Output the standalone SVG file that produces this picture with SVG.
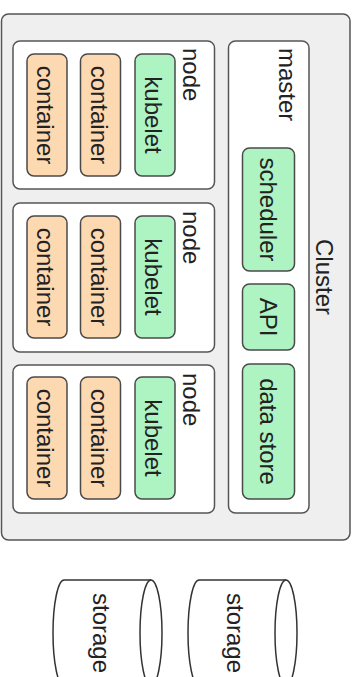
<svg xmlns="http://www.w3.org/2000/svg" width="356" height="677" viewBox="0 0 356 677">
  <style>
    .cluster { fill: #efefef; stroke: #555; stroke-width: 1.5; }
    .box { fill: #ffffff; stroke: #555; stroke-width: 1.5; }
    .green { fill: #aef3c2; stroke: #4a4a4a; stroke-width: 1.5; }
    .peach { fill: #fdd9b2; stroke: #4a4a4a; stroke-width: 1.5; }
    .cyl { fill: #ffffff; stroke: #333; stroke-width: 1.5; }
    text { font-family: "Liberation Sans", Arial, Helvetica, sans-serif; font-size: 24px; fill: #222; }
    .mid { text-anchor: middle; }
  </style>

  <!-- cluster frame -->
  <g id="cluster">
    <rect class="cluster" x="1.5" y="14" width="348.5" height="526" rx="7"/>
    <text class="mid" x="316" y="277" transform="rotate(90 316 277)">Cluster</text>
  </g>

  <!-- master -->
  <g id="master">
    <rect class="box" x="228.5" y="41" width="80.5" height="472" rx="7"/>
    <text x="279" y="48" transform="rotate(90 279 48)">master</text>
  </g>
  <g id="scheduler">
    <rect class="green" x="242.5" y="148" width="52" height="123" rx="7"/>
    <text class="mid" x="260" y="209.5" transform="rotate(90 260 209.5)">scheduler</text>
  </g>
  <g id="api">
    <rect class="green" x="242.5" y="284" width="52" height="66" rx="7"/>
    <text class="mid" x="260" y="317" transform="rotate(90 260 317)">API</text>
  </g>
  <g id="data-store">
    <rect class="green" x="242.5" y="364" width="52" height="135" rx="7"/>
    <text class="mid" x="260" y="431.5" transform="rotate(90 260 431.5)">data store</text>
  </g>

  <!-- node 1 -->
  <g id="node1">
    <rect class="box" x="13" y="41" width="201.5" height="148" rx="7"/>
    <text x="183" y="48" transform="rotate(90 183 48)">node</text>
  </g>
  <g id="node1-kubelet">
    <rect class="green" x="135" y="54" width="40" height="122" rx="7"/>
    <text class="mid" x="145" y="115" transform="rotate(90 145 115)">kubelet</text>
  </g>
  <g id="node1-container2">
    <rect class="peach" x="80.5" y="54" width="40" height="122" rx="7"/>
    <text class="mid" x="91" y="115" transform="rotate(90 91 115)">container</text>
  </g>
  <g id="node1-container1">
    <rect class="peach" x="27" y="54" width="40" height="122" rx="7"/>
    <text class="mid" x="37" y="115" transform="rotate(90 37 115)">container</text>
  </g>

  <!-- node 2 -->
  <g id="node2">
    <rect class="box" x="13" y="203" width="201.5" height="149" rx="7"/>
    <text x="183" y="211" transform="rotate(90 183 211)">node</text>
  </g>
  <g id="node2-kubelet">
    <rect class="green" x="135" y="216" width="40" height="122" rx="7"/>
    <text class="mid" x="145" y="277" transform="rotate(90 145 277)">kubelet</text>
  </g>
  <g id="node2-container2">
    <rect class="peach" x="80.5" y="216" width="40" height="122" rx="7"/>
    <text class="mid" x="91" y="277" transform="rotate(90 91 277)">container</text>
  </g>
  <g id="node2-container1">
    <rect class="peach" x="27" y="216" width="40" height="122" rx="7"/>
    <text class="mid" x="37" y="277" transform="rotate(90 37 277)">container</text>
  </g>

  <!-- node 3 -->
  <g id="node3">
    <rect class="box" x="13" y="365" width="201.5" height="148" rx="7"/>
    <text x="183" y="373" transform="rotate(90 183 373)">node</text>
  </g>
  <g id="node3-kubelet">
    <rect class="green" x="135" y="377" width="40" height="122" rx="7"/>
    <text class="mid" x="145" y="438" transform="rotate(90 145 438)">kubelet</text>
  </g>
  <g id="node3-container2">
    <rect class="peach" x="80.5" y="377" width="40" height="122" rx="7"/>
    <text class="mid" x="91" y="438" transform="rotate(90 91 438)">container</text>
  </g>
  <g id="node3-container1">
    <rect class="peach" x="27" y="377" width="40" height="122" rx="7"/>
    <text class="mid" x="37" y="438" transform="rotate(90 37 438)">container</text>
  </g>

  <!-- storage cylinders, lying on their side -->
  <g id="storage1">
    <path class="cyl" d="M64,580 L151,580 A11,53 0 0 1 151,686 L64,686 A11,53 0 0 1 64,580 Z"/>
    <path class="cyl" fill="none" d="M151,580 A11,53 0 0 0 151,686"/>
    <text class="mid" x="93" y="633" transform="rotate(90 93 633)">storage</text>
  </g>
  <g id="storage2">
    <path class="cyl" d="M199,580 L286,580 A11,53 0 0 1 286,686 L199,686 A11,53 0 0 1 199,580 Z"/>
    <path class="cyl" fill="none" d="M286,580 A11,53 0 0 0 286,686"/>
    <text class="mid" x="227" y="633" transform="rotate(90 227 633)">storage</text>
  </g>

  <!-- no connectors are drawn -->
  <g id="connectors"/>
</svg>
